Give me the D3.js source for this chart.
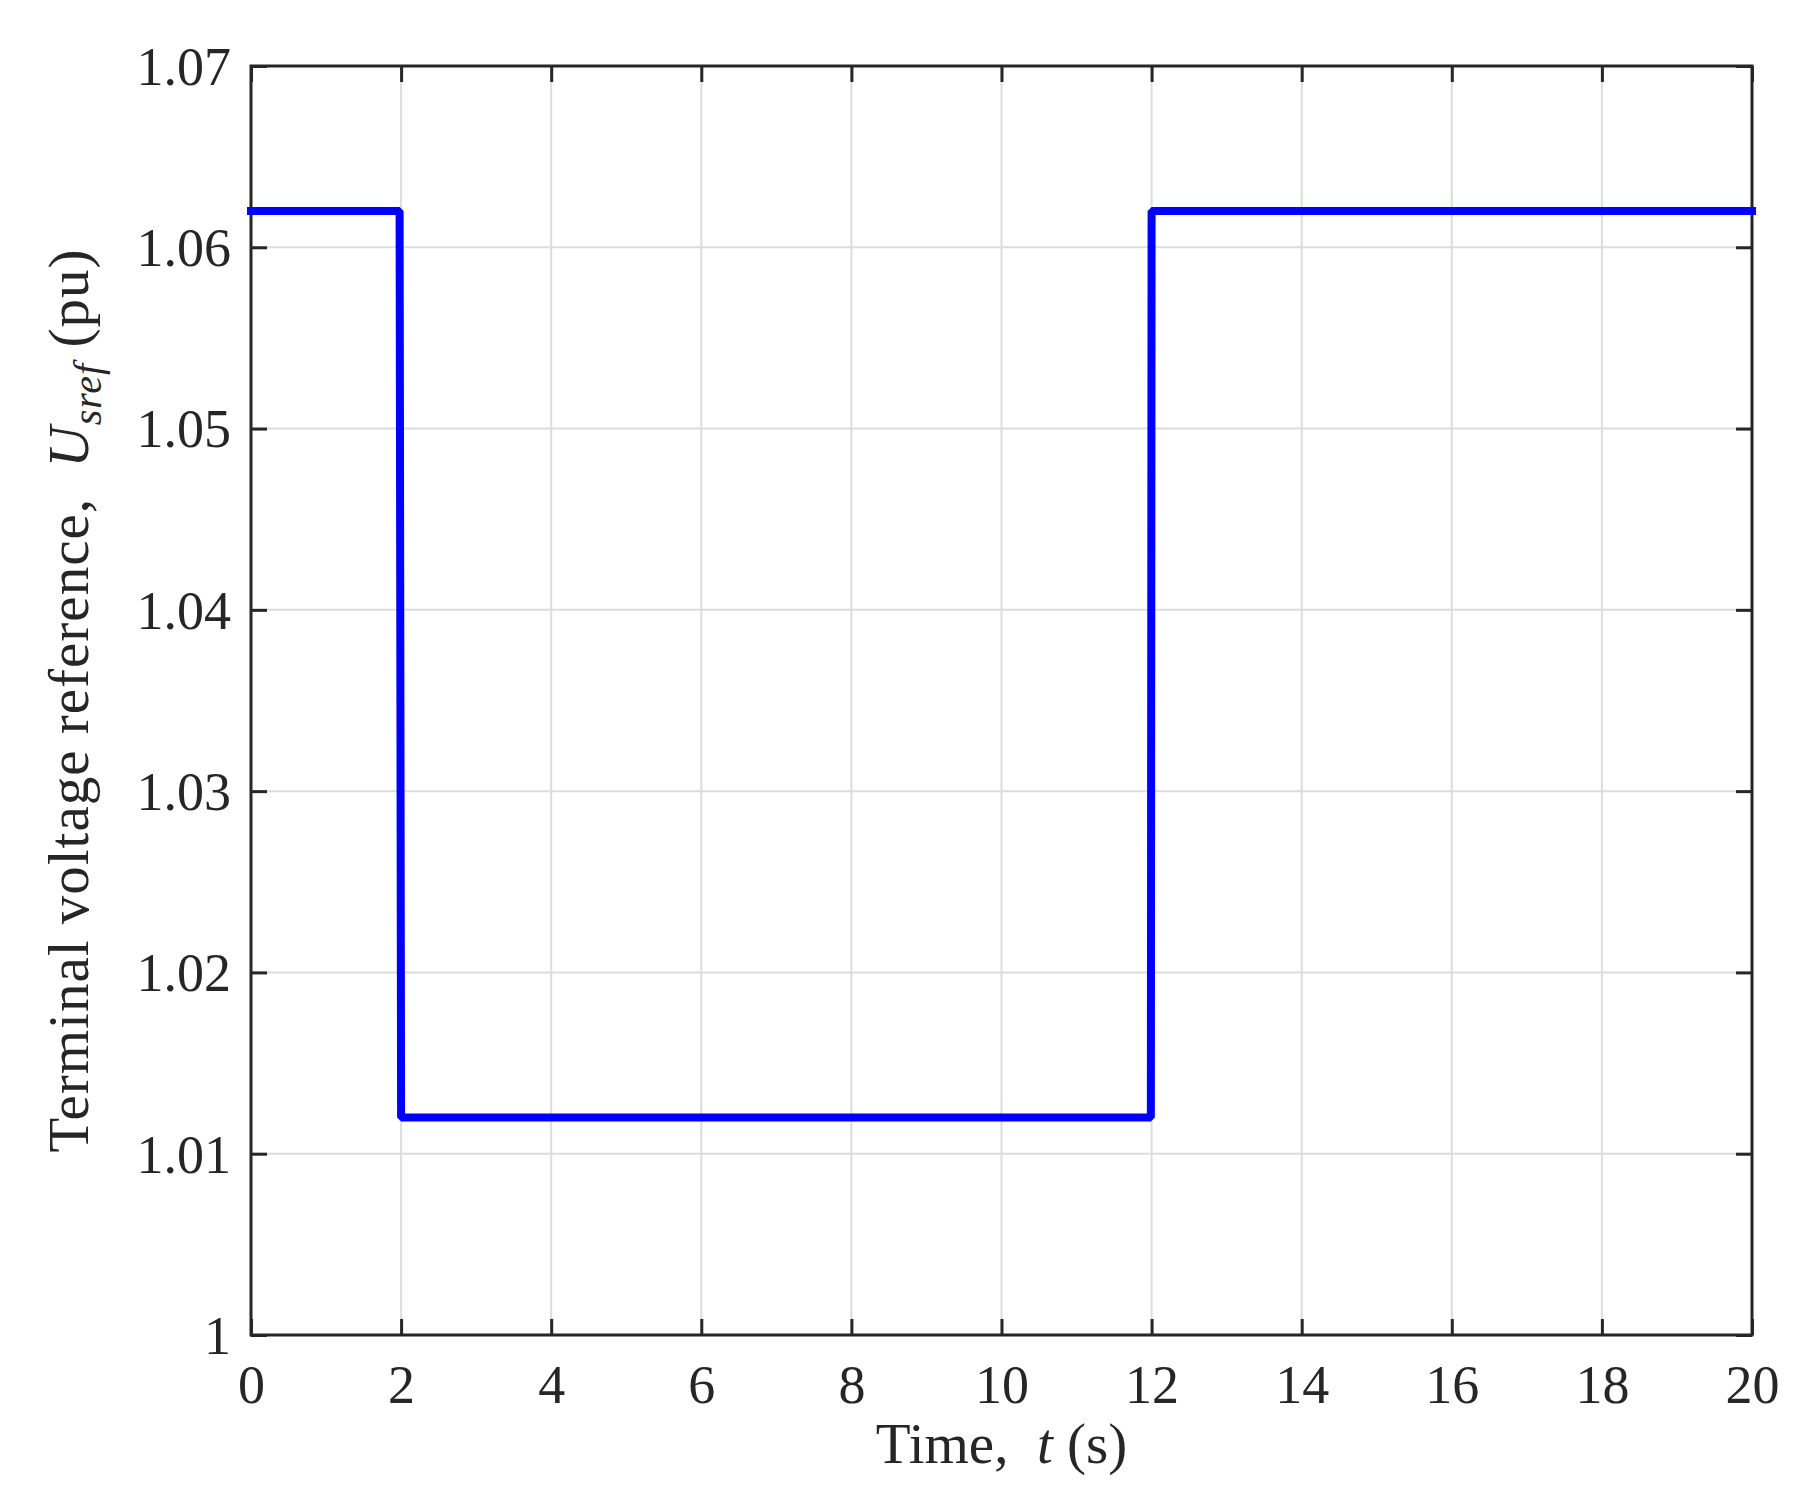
<!DOCTYPE html>
<html>
<head>
<meta charset="utf-8">
<script src="https://cdn.jsdelivr.net/npm/d3@7"></script>
<style>
  body { margin: 0; background: #fff; }
  text { font-family: "Liberation Serif", "Times New Roman", serif; fill: #262626; white-space: pre; }
</style>
</head>
<body>
<svg id="chart"></svg>
<script>
// data
var timeVals = [0, 1.98, 2.0, 11.99, 12.0, 20];
var usrefVals = [1.062, 1.062, 1.012, 1.012, 1.062, 1.062];
var xTicks = [0, 2, 4, 6, 8, 10, 12, 14, 16, 18, 20];
var yTicks = [1, 1.01, 1.02, 1.03, 1.04, 1.05, 1.06, 1.07];
var yTickLabels = ["1", "1.01", "1.02", "1.03", "1.04", "1.05", "1.06", "1.07"];

var svgWidth = 1810, svgHeight = 1500;
var svg = d3.select("#chart").attr("width", svgWidth).attr("height", svgHeight);

let margin = { top: 66, right: 58, bottom: 165, left: 251 };
let plotWidth = svgWidth - margin.left - margin.right;
let plotHeight = svgHeight - margin.top - margin.bottom;

let plot = svg.append("g").attr("transform", "translate(" + margin.left + "," + margin.top + ")");

var xScale = d3.scaleLinear().domain([0, 20]).range([0, plotWidth]);
var yScale = d3.scaleLinear().domain([1, 1.07]).range([plotHeight, 0]);

// grid
plot.append("g").selectAll("line").data(xTicks.slice(1, -1)).enter().append("line")
  .attr("x1", d => xScale(d)).attr("x2", d => xScale(d))
  .attr("y1", 0).attr("y2", plotHeight)
  .attr("stroke", "#dcdcdc").attr("stroke-width", 2);
plot.append("g").selectAll("line").data(yTicks.slice(1, -1)).enter().append("line")
  .attr("y1", d => yScale(d)).attr("y2", d => yScale(d))
  .attr("x1", 0).attr("x2", plotWidth)
  .attr("stroke", "#dcdcdc").attr("stroke-width", 2);

// axes, ticks pointing inward on all 4 sides
var tickLen = 16;
let xBottom = plot.append("g").attr("transform", "translate(0," + plotHeight + ")")
  .call(d3.axisBottom(xScale).tickValues(xTicks).tickSizeInner(-tickLen).tickSizeOuter(0).tickPadding(30).tickFormat(d3.format("d")));
let xTop = plot.append("g")
  .call(d3.axisTop(xScale).tickValues(xTicks).tickSizeInner(-tickLen).tickSizeOuter(0).tickFormat(""));
let yLeft = plot.append("g")
  .call(d3.axisLeft(yScale).tickValues(yTicks).tickSizeInner(-tickLen).tickSizeOuter(0).tickPadding(20)
    .tickFormat((d, i) => yTickLabels[i]));
let yRight = plot.append("g").attr("transform", "translate(" + plotWidth + ",0)")
  .call(d3.axisRight(yScale).tickValues(yTicks).tickSizeInner(-tickLen).tickSizeOuter(0).tickFormat(""));

[xBottom, xTop, yLeft, yRight].forEach(function(g) {
  g.select(".domain").remove();
  g.selectAll(".tick line").attr("stroke", "#262626").attr("stroke-width", 3);
  g.selectAll(".tick text").attr("fill", "#262626").style("font-size", "54px")
    .style("font-family", "'Liberation Serif', serif");
});
yLeft.selectAll(".tick text").attr("dy", "0.34em");

// box
plot.append("rect").attr("x", 0).attr("y", 0).attr("width", plotWidth).attr("height", plotHeight)
  .attr("fill", "none").attr("stroke", "#262626").attr("stroke-width", 3);

// the series
var pts = timeVals.map((t, i) => [t, usrefVals[i]]);
plot.append("path").datum(pts)
  .attr("d", d3.line().x(d => xScale(d[0])).y(d => yScale(d[1])))
  .attr("fill", "none").attr("stroke", "#0000ff").attr("stroke-width", 8)
  .attr("stroke-linejoin", "bevel").attr("stroke-linecap", "square");

// x title
var xt = svg.append("text")
  .attr("x", margin.left + plotWidth / 2).attr("y", 1463)
  .style("text-anchor", "middle").style("font-size", "57px");
xt.append("tspan").text("Time,  ");
xt.append("tspan").style("font-style", "italic").text("t");
xt.append("tspan").text(" (s)");

// y title
var yt = svg.append("text")
  .attr("transform", "translate(88," + (margin.top + plotHeight / 2) + ") rotate(-90)")
  .style("text-anchor", "middle").style("font-size", "57px").attr("letter-spacing", "1px");
yt.append("tspan").text("Terminal voltage reference,  ");
yt.append("tspan").style("font-style", "italic").text("U");
yt.append("tspan").style("font-style", "italic").style("font-size", "40px").attr("dy", 13).text("sref");
yt.append("tspan").attr("dy", -13).text(" (pu)");
</script>
</body>
</html>
